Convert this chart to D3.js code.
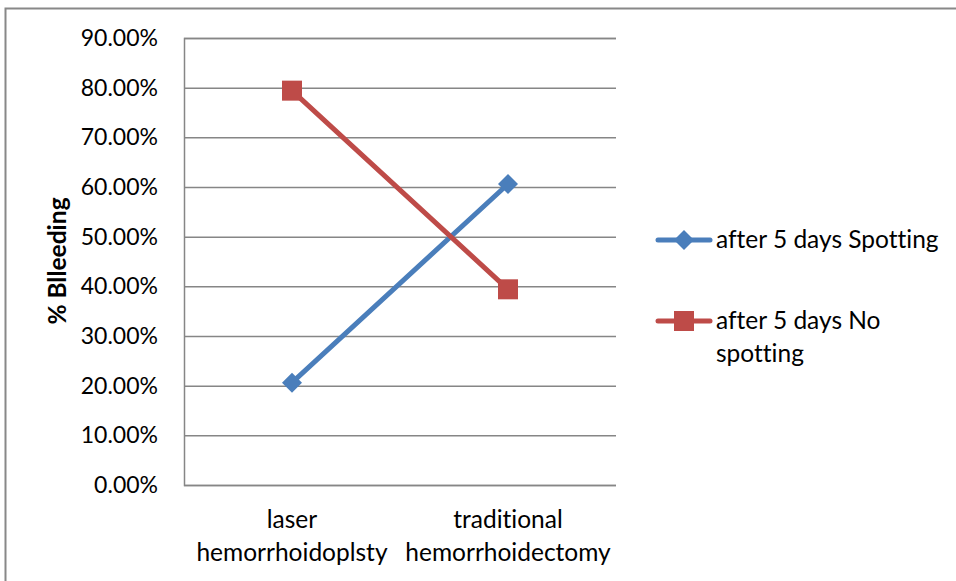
<!DOCTYPE html>
<html>
<head>
<meta charset="utf-8">
<script src="https://cdn.jsdelivr.net/npm/d3@7"></script>
<style>
  body { margin: 0; background: #fff; }
  text { font-family: Lato, "Open Sans", sans-serif; fill: #000; font-variant-ligatures: none; }
</style>
</head>
<body>
<div id="chart"></div>
<script>
// data
var categories = ['laser hemorrhoidoplsty', 'traditional hemorrhoidectomy'];
var categoryLines = [['laser', 'hemorrhoidoplsty'], ['traditional', 'hemorrhoidectomy']];
var spotting = [0.206, 0.606];
var noSpotting = [0.794, 0.394];
var seriesNames = ['after 5 days Spotting', 'after 5 days No spotting'];
var yTicks = [0, 0.1, 0.2, 0.3, 0.4, 0.5, 0.6, 0.7, 0.8, 0.9];

var w = 956;
var h = 581;
var tickSize = 23;
var fontSize = 24.5;

var svg = d3
  .select('#chart')
  .append('svg')
  .attr('width', w)
  .attr('height', h);

// outer chart border (cropped at right/bottom)
svg
  .append('rect')
  .attr('x', 5.5)
  .attr('y', 8.5)
  .attr('width', 1000)
  .attr('height', 1000)
  .attr('fill', 'none')
  .attr('stroke', '#888')
  .attr('stroke-width', 2);

var x = d3.scalePoint().domain(categories).range([184, 616]).padding(0.5);
var y = d3.scaleLinear().domain([0, 0.9]).range([485, 38]);

// y axis with gridlines
var yAxis = svg
  .append('g')
  .attr('transform', 'translate(184,0)')
  .call(
    d3
      .axisLeft(y)
      .tickValues(yTicks)
      .tickFormat(d3.format('.2%'))
      .tickSize(-432)
      .tickPadding(26)
  );
yAxis.select('.domain').attr('stroke', '#868686').attr('stroke-width', 1.5);
yAxis.selectAll('.tick line').attr('stroke', '#868686').attr('stroke-width', 1.5);
yAxis
  .selectAll('.tick text')
  .attr('font-size', tickSize)
  .attr('font-family', 'Lato, sans-serif')
  .attr('fill', '#000');

// category labels
svg
  .selectAll('text.cat')
  .data(categories)
  .enter()
  .append('text')
  .attr('class', 'cat')
  .attr('text-anchor', 'middle')
  .attr('font-size', fontSize)
  .each(function (d, i) {
    var t = d3.select(this);
    categoryLines[i].forEach(function (line, j) {
      t.append('tspan')
        .attr('x', x(d))
        .attr('y', 528 + j * 33)
        .text(line);
    });
  });

// y axis title
svg
  .append('text')
  .attr('transform', 'translate(66,261) rotate(-90)')
  .attr('text-anchor', 'middle')
  .attr('font-size', fontSize)
  .attr('font-weight', 'bold')
  .text('% Blleeding');

var series = [
  { name: seriesNames[0], values: spotting, color: '#4A7EBB', marker: 'diamond' },
  { name: seriesNames[1], values: noSpotting, color: '#BE4B48', marker: 'square' }
];

var line = d3
  .line()
  .x(function (d, i) { return x(categories[i]); })
  .y(function (d) { return y(d); });

function drawMarker(g, type, cx, cy, color) {
  if (type === 'diamond') {
    g.append('path')
      .attr('d', 'M' + cx + ',' + (cy - 10) + 'L' + (cx + 10) + ',' + cy + 'L' + cx + ',' + (cy + 10) + 'L' + (cx - 10) + ',' + cy + 'Z')
      .attr('fill', color);
  } else {
    g.append('rect')
      .attr('x', cx - 10)
      .attr('y', cy - 10)
      .attr('width', 20)
      .attr('height', 20)
      .attr('fill', color);
  }
}

series.forEach(function (s) {
  var g = svg.append('g');
  g.append('path')
    .datum(s.values)
    .attr('d', line)
    .attr('fill', 'none')
    .attr('stroke', s.color)
    .attr('stroke-width', 5)
    .attr('stroke-linecap', 'round');
  s.values.forEach(function (v, i) {
    drawMarker(g, s.marker, x(categories[i]), y(v), s.color);
  });
});

// legend
var legendY = [240, 321];
series.forEach(function (s, i) {
  var g = svg.append('g');
  g.append('line')
    .attr('x1', 658)
    .attr('x2', 710)
    .attr('y1', legendY[i])
    .attr('y2', legendY[i])
    .attr('stroke', s.color)
    .attr('stroke-width', 5)
    .attr('stroke-linecap', 'round');
  drawMarker(g, s.marker, 684, legendY[i], s.color);
  var t = g.append('text').attr('font-size', fontSize);
  var parts = i === 0 ? [s.name] : ['after 5 days No', 'spotting'];
  parts.forEach(function (p, j) {
    t.append('tspan')
      .attr('x', 716)
      .attr('y', legendY[i] + 8 + j * 33)
      .text(p);
  });
});
</script>
</body>
</html>
